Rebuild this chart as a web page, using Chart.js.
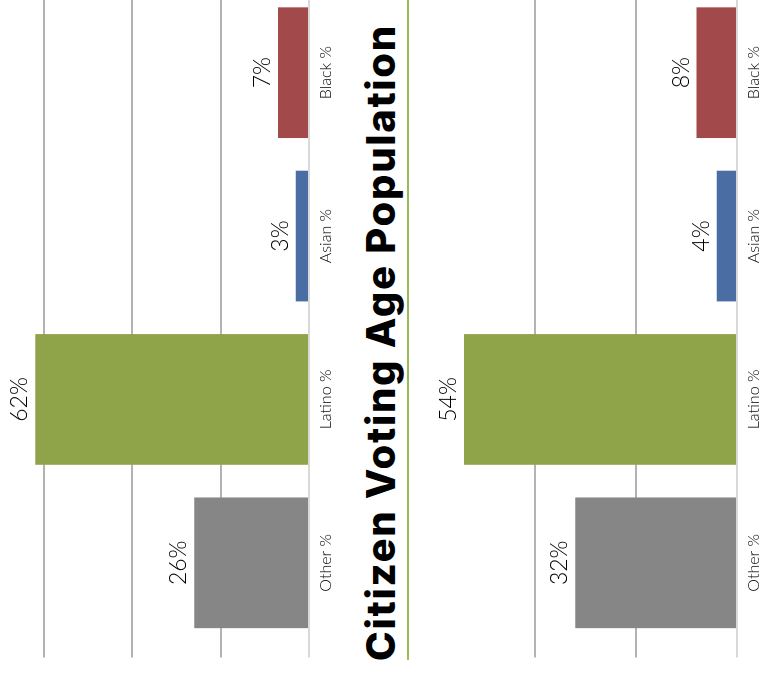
<!DOCTYPE html>
<html>
<head>
<meta charset="utf-8">
<title>Citizen Voting Age Population</title>
<script src="https://cdn.jsdelivr.net/npm/chart.js@4.4.1/dist/chart.umd.min.js"></script>
<style>
  html, body { margin: 0; padding: 0; background: #fff; overflow: hidden; width: 769px; height: 675px; }
  /* the whole chart is built upright, then turned a quarter to the left */
  #wrap { position: absolute; left: 0; top: 0; width: 690px; height: 769px;
          transform-origin: 0 0; transform: translate(0, 675px) rotate(-90deg); }
  .box { position: absolute; left: 0; width: 690px; height: 349px; }
  #box1 { top: 0; }
  #box2 { top: 420px; }
  #title { position: absolute; left: 0; width: 665px; top: 356px; height: 44px; line-height: 44px;
           font: 800 40px Inter, sans-serif; text-align: center; white-space: nowrap; color: #000; }
  #rule { position: absolute; left: 15px; width: 675px; top: 407px; height: 2px; background: #9bbb59; }
</style>
</head>
<body>
<div id="wrap">
  <div class="box" id="box1"><canvas id="chartTop" width="690" height="349"></canvas></div>
  <div id="title">Citizen Voting Age Population</div>
  <div id="rule"></div>
  <div class="box" id="box2"><canvas id="chartBottom" width="690" height="349"></canvas></div>
</div>
<script>
// données
const categories = ['Other %', 'Latino %', 'Asian %', 'Black %'];
const valuesTop = [26, 62, 3, 7];
const valuesBottom = [32, 54, 4, 8];
const barColors = ['#868686', '#8FA348', '#4A6EA3', '#A1494B'];

// le titre doit occuper ~635px de long
const titleEl = document.getElementById('title');
const mctx = document.createElement('canvas').getContext('2d');
mctx.font = '800 40px Inter, sans-serif';
const tw = mctx.measureText(titleEl.textContent).width;
titleEl.style.letterSpacing = ((635 - tw) / (titleEl.textContent.length - 1)).toFixed(2) + 'px';

// étiquettes de valeur au bout des barres
const valueLabels = {
  id: 'valueLabels',
  afterDatasetsDraw(chart) {
    const ctx = chart.ctx;
    const meta = chart.getDatasetMeta(0);
    ctx.save();
    ctx.font = '300 23px Lato, sans-serif';
    ctx.fillStyle = '#000';
    ctx.textAlign = 'center';
    ctx.textBaseline = 'alphabetic';
    meta.data.forEach((bar, i) => {
      ctx.fillText(chart.data.datasets[0].data[i] + '%', bar.x, bar.y - 8);
    });
    ctx.restore();
  }
};

function makeChart(id, values, max, padTop, axisHeight) {
  return new Chart(document.getElementById(id), {
    type: 'bar',
    data: {
      labels: categories,
      datasets: [{ data: values, backgroundColor: barColors, barPercentage: 0.8, categoryPercentage: 1 }]
    },
    options: {
      responsive: false,
      animation: false,
      layout: { padding: { top: padTop, right: 6, left: 0, bottom: 0 } },
      plugins: { legend: { display: false }, tooltip: { enabled: false } },
      scales: {
        x: {
          grid: { display: false },
          border: { display: false },
          ticks: { color: '#000', font: { family: 'Lato', size: 16, weight: 300 }, padding: -1 },
          afterFit(s) { s.height = axisHeight; }
        },
        y: {
          min: 0,
          max: max,
          ticks: { display: false, stepSize: 20 },
          border: { display: false },
          grid: {
            // la ligne du haut de l'axe n'est pas tracée
            color: c => {
              const v = c.tick.value;
              if (v === 0) return '#d9d9d9';
              if (v % 20 !== 0 || v === max) return 'rgba(0,0,0,0)';
              return '#b3b3b3';
            },
            lineWidth: 2,
            drawTicks: true,
            tickLength: 13
          },
          afterFit(s) { s.width = 30.5; }
        }
      }
    },
    plugins: [valueLabels]
  });
}

makeChart('chartTop', valuesTop, 70, 0, 40);
makeChart('chartBottom', valuesBottom, 60, 13.7, 32);
</script>
</body>
</html>
